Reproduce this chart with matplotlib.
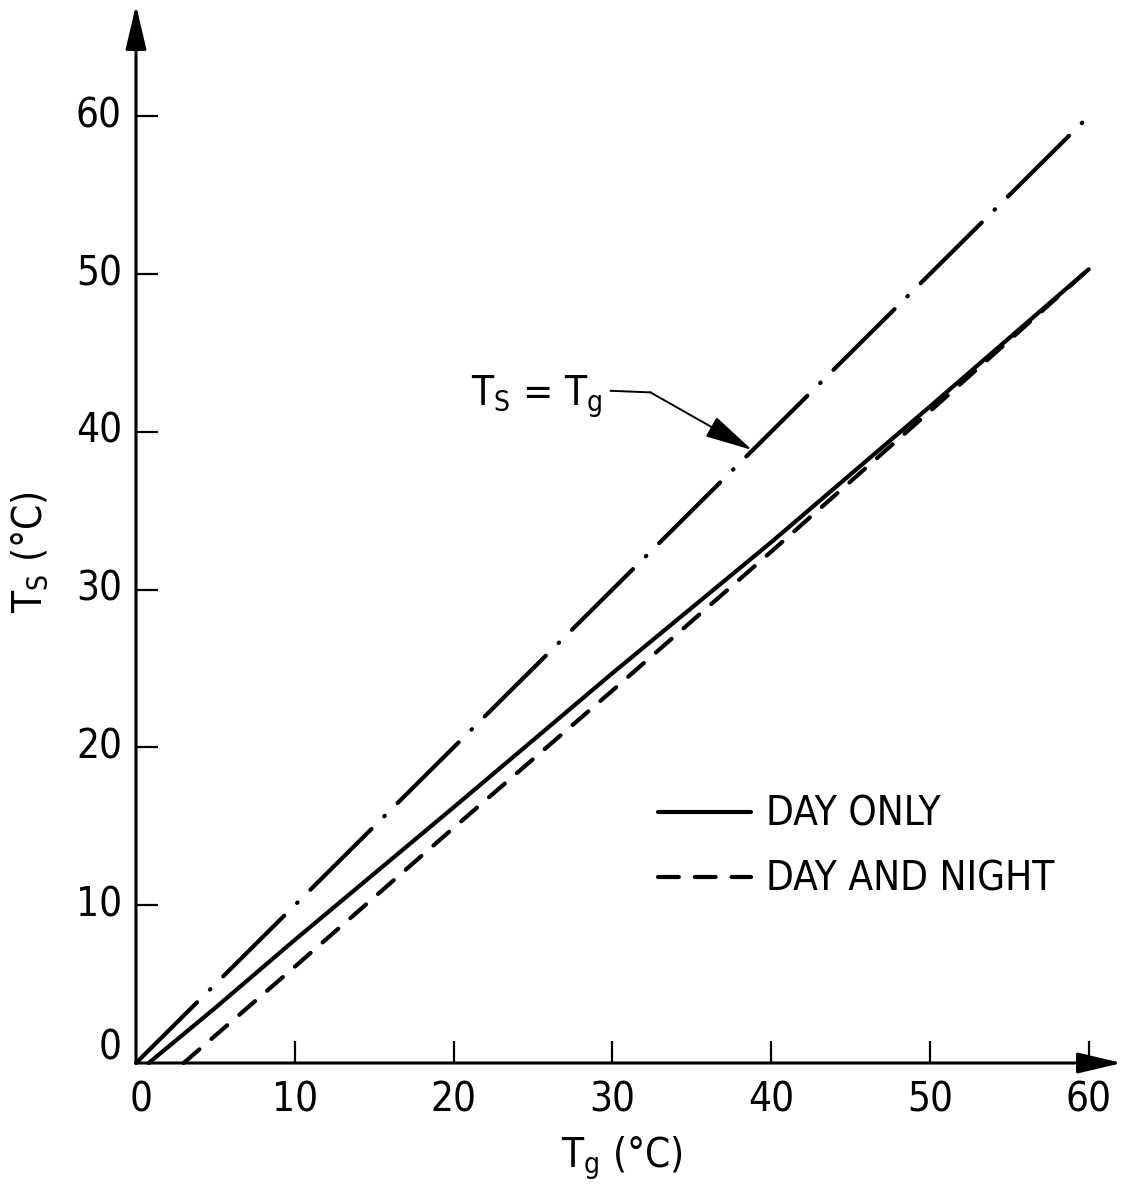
import matplotlib
matplotlib.use("Agg")
import matplotlib.pyplot as plt
from matplotlib.lines import Line2D

plt.rcParams['font.family'] = ['DejaVu Sans']
plt.rcParams['font.stretch'] = 'condensed'
plt.rcParams['mathtext.default'] = 'regular'
plt.rcParams['lines.scale_dashes'] = False

# Ground temperature (x) and surface temperature (y), degrees C
tg_equal = [0, 60]
ts_equal = [0, 60]

tg_day = [0.8, 5, 10, 20, 30, 40, 50, 60]
ts_day = [0.0, 3.5, 7.8, 16.2, 24.7, 33.0, 41.6, 50.3]

tg_daynight = [3, 10, 20, 30, 40, 50, 60]
ts_daynight = [0.0, 6.1, 14.9, 23.6, 32.4, 41.3, 50.3]

x_ticks = [0, 10, 20, 30, 40, 50, 60]
y_ticks = [0, 10, 20, 30, 40, 50, 60]
series_labels = ["DAY ONLY", "DAY AND NIGHT"]

W, H = 1124, 1194
fig = plt.figure(figsize=(W / 100, H / 100), dpi=100)

# axes box spans from the origin to the arrow tips
x0, y0, x1, y1 = 136, 1063, 1122, 5
ax = fig.add_axes([x0 / W, 1 - y0 / H, (x1 - x0) / W, (y0 - y1) / H])
ax.set_xlim(0, 62.1)
ax.set_ylim(0, 67.05)
for s in ax.spines.values():
    s.set_visible(False)

fs = 29
lw = 3.0

# axes with arrowheads
arrow_kw = dict(arrowstyle='-|>,head_length=1.7,head_width=0.4',
                lw=2.2, color='black', mutation_scale=16, shrinkA=0, shrinkB=0)
ax.annotate('', xy=(1, 0), xytext=(0, 0), xycoords='axes fraction',
            arrowprops=arrow_kw, annotation_clip=False)
ax.annotate('', xy=(0, 1), xytext=(0, 0), xycoords='axes fraction',
            arrowprops=arrow_kw, annotation_clip=False)

# tick marks pointing inward, labels placed as text
ax.set_xticks(x_ticks[1:])
ax.set_yticks(y_ticks[1:])
ax.tick_params(axis='both', direction='in', length=16, width=1.6,
               labelbottom=False, labelleft=False)

for v in x_ticks:
    ax.annotate(str(v), xy=(v, 0), xycoords='data',
                xytext=(0 if v else 5, -17), textcoords='offset pixels',
                ha='center', va='top', fontsize=fs, annotation_clip=False)
for v in y_ticks:
    ax.annotate(str(v), xy=(0, v), xycoords='data',
                xytext=(-14, 15 if v == 0 else 0), textcoords='offset pixels',
                ha='right', va='center', fontsize=fs, annotation_clip=False)

# curves
ax.plot(tg_equal, ts_equal, color='black', lw=lw,
        linestyle=(0, (62, 13, 0.5, 13)), dash_capstyle='round', clip_on=False)
ax.plot(tg_day, ts_day, color='black', lw=lw, solid_capstyle='round',
        label=series_labels[0], clip_on=False)
ax.plot(tg_daynight, ts_daynight, color='black', lw=lw,
        linestyle=(0, (15, 11.5)), dash_capstyle='round',
        label=series_labels[1], clip_on=False)

# identity-line callout
ax.text(29.4, 41.7, r'$T_S$ = $T_g$', fontsize=fs, ha='right', va='baseline')
ax.add_line(Line2D([29.9, 32.4], [42.6, 42.5], color='black', lw=1.4))
ax.annotate('', xy=(38.8, 38.85), xytext=(32.4, 42.5),
            arrowprops=dict(arrowstyle='-|>,head_length=1.5,head_width=0.35',
                            lw=1.4, color='black', mutation_scale=20,
                            shrinkA=0, shrinkB=0))

# legend
leg = ax.legend(loc='upper left', bbox_to_anchor=((658 - x0) / (x1 - x0), 1 - (795 - y1) / (y0 - y1)),
                frameon=False, fontsize=fs, handlelength=2.3, handletextpad=0.38,
                labelspacing=0.62, borderpad=0, borderaxespad=0)

# axis titles
fig.text(561 / W, 1 - 1167 / H, r'$T_g$ (°C)', fontsize=fs, ha='left', va='baseline')
fig.text(30 / W, 1 - 552 / H, r'$T_S$ (°C)', fontsize=fs, rotation=90,
         ha='center', va='center')

fig.savefig('out.png', dpi=100)
